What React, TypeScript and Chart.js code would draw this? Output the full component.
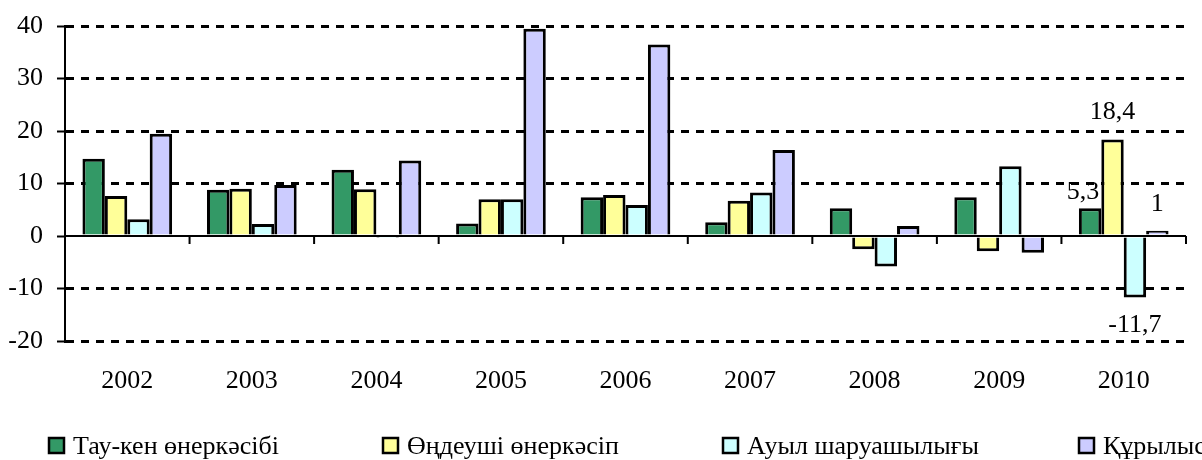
import React, { useEffect, useRef } from "react";
import { Chart, registerables } from "chart.js";

Chart.register(...registerables);

const categories = ["2002", "2003", "2004", "2005", "2006", "2007", "2008", "2009", "2010"];
const seriesNames = ["Тау-кен өнеркәсібі", "Өңдеуші өнеркәсіп", "Ауыл шаруашылығы", "Құрылыс"];
const mining = [14.7, 8.8, 12.6, 2.4, 7.4, 2.6, 5.3, 7.4, 5.3];
const manufacturing = [7.6, 9.0, 8.9, 7.0, 7.8, 6.7, -2.5, -2.9, 18.4];
const agriculture = [3.2, 2.3, -0.1, 7.0, 5.9, 8.3, -5.8, 13.3, -11.7];
const construction = [19.5, 9.7, 14.4, 39.5, 36.5, 16.4, 1.9, -3.2, 1];
const yTicks = { min: -20, max: 40, step: 10 };
const labelledIndex = 8;

const colors = ["#339966", "#FFFF99", "#CCFFFF", "#CCCCFF"];
const FONT = "'Liberation Serif', 'Times New Roman', serif";
const FS = 26;
const legendX = [48, 382, 722, 1078];
const labelOffsets = [
  { dx: -7, dy: -16 },
  { dx: 0, dy: -27 },
  { dx: 0, dy: 28 },
  { dx: 0, dy: -27 },
];

const fmt = (v: number) => String(v).replace(".", ",");

export default function App() {
  const ref = useRef<HTMLCanvasElement | null>(null);
  useEffect(() => {
    if (!ref.current) return;
    const all = [mining, manufacturing, agriculture, construction];

    const zeroPlugin = {
      id: "zeroLine",
      beforeDatasetsDraw(chart: any) {
        const { ctx, chartArea, scales } = chart;
        const y0 = scales.y.getPixelForValue(0);
        ctx.save();
        ctx.strokeStyle = "#000";
        ctx.lineWidth = 2;
        ctx.setLineDash([]);
        ctx.beginPath();
        ctx.moveTo(chartArea.left, y0);
        ctx.lineTo(chartArea.right, y0);
        const n = categories.length;
        const w = (chartArea.right - chartArea.left) / n;
        for (let i = 1; i <= n; i++) {
          const x = chartArea.left + i * w;
          ctx.moveTo(x, y0);
          ctx.lineTo(x, y0 + 8);
        }
        ctx.stroke();
        ctx.restore();
      },
    };

    const labelsPlugin = {
      id: "valLabels",
      afterDatasetsDraw(chart: any) {
        const { ctx } = chart;
        ctx.save();
        ctx.font = `${FS}px ${FONT}`;
        ctx.fillStyle = "#000";
        ctx.textAlign = "center";
        ctx.textBaseline = "middle";
        chart.data.datasets.forEach((ds: any, di: number) => {
          const el = chart.getDatasetMeta(di).data[labelledIndex];
          const v = ds.data[labelledIndex];
          const off = labelOffsets[di];
          ctx.fillText(fmt(v), el.x + off.dx, el.y + off.dy);
        });
        ctx.restore();
      },
    };

    const legendPlugin = {
      id: "customLegend",
      afterDraw(chart: any) {
        const { ctx } = chart;
        ctx.save();
        ctx.font = `${FS}px ${FONT}`;
        ctx.textBaseline = "middle";
        ctx.textAlign = "left";
        const yc = 445;
        seriesNames.forEach((name, i) => {
          const x = legendX[i];
          ctx.fillStyle = colors[i];
          ctx.fillRect(x + 1, yc - 7, 15, 15);
          ctx.strokeStyle = "#000";
          ctx.lineWidth = 2.5;
          ctx.strokeRect(x + 1, yc - 7, 15, 15);
          ctx.fillStyle = "#000";
          ctx.fillText(name, x + 25, yc + 2);
        });
        ctx.restore();
      },
    };

    const chart = new Chart(ref.current, {
      type: "bar",
      data: {
        labels: categories,
        datasets: all.map((d, i) => ({
          label: seriesNames[i],
          data: d,
          backgroundColor: colors[i],
          borderColor: "#000",
          borderWidth: 3,
          categoryPercentage: 0.72,
          barPercentage: 1,
        })),
      },
      options: {
        responsive: false,
        animation: false,
        layout: { padding: { top: 26, right: 16, left: 0, bottom: 0 } },
        plugins: { legend: { display: false }, tooltip: { enabled: false } },
        scales: {
          x: {
            grid: { display: false, drawTicks: false },
            border: { display: false },
            ticks: { color: "#000", font: { family: FONT, size: FS }, padding: 25 },
            afterFit(scale: any) {
              scale.height = 119;
              scale.paddingLeft = 0;
              scale.paddingRight = 0;
            },
          },
          y: {
            min: yTicks.min,
            max: yTicks.max,
            ticks: {
              stepSize: yTicks.step,
              color: "#000",
              padding: 14,
              font: { family: FONT, size: FS },
            },
            grid: {
              color: (c: any) => (c.tick && c.tick.value === 0 ? "rgba(0,0,0,0)" : "#000"),
              lineWidth: 3,
              tickColor: "#000",
              tickWidth: 2,
              tickLength: 8,
            },
            border: { display: true, color: "#000", width: 2, dash: [8, 7] },
            afterFit(scale: any) {
              scale.width = 65;
              scale.paddingTop = 0;
              scale.paddingBottom = 0;
            },
          },
        },
      },
      plugins: [zeroPlugin, labelsPlugin, legendPlugin],
    });
    return () => chart.destroy();
  }, []);
  return (
    <div style={{ position: "absolute", left: 0, top: 0, width: 1202, height: 460, background: "#fff" }}>
      <canvas ref={ref} width={1202} height={460} style={{ display: "block" }} />
    </div>
  );
}
